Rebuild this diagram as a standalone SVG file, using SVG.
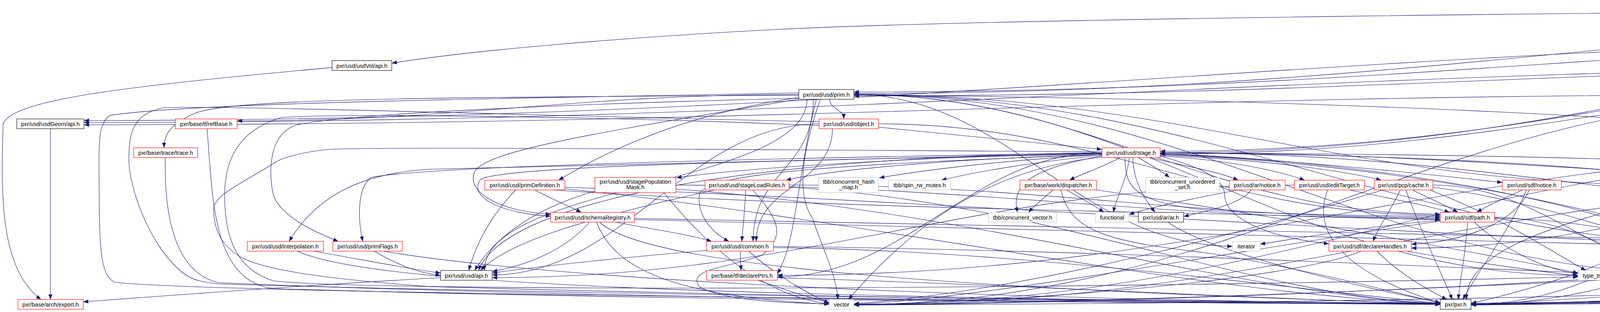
<svg xmlns="http://www.w3.org/2000/svg" width="6427" height="800" viewBox="0 0 6427 800">
<style>
.n rect{fill:#fff;stroke-width:1.1}
.r rect{stroke:#ff0000}
.b rect{stroke:#000}
.g rect{stroke:#bfbfbf}
.f rect{fill:#bfbfbf;stroke:#000}
text{font-family:"Liberation Sans",Arial,sans-serif;font-size:14.5px;text-anchor:middle;fill:#000}
#edges path{fill:none;stroke:#191970;stroke-width:1.1;marker-end:url(#arr)}
</style>
<defs>
<marker id="arr" viewBox="0 0 13 10" refX="13" refY="5" markerWidth="13" markerHeight="10" markerUnits="userSpaceOnUse" orient="auto"><path d="M0,0L13,5L0,10z" fill="#191970"/></marker>
</defs>
<rect width="6427" height="800" fill="#fff"/>
<g id="edges">
<path d="M6029,31 C6029,56 5851,56 5851,80.5"/>
<path d="M5976,20 C4000,30 2500,50 2000,75 C1600,95 1200,130 1003,162"/>
<path d="M5976,18.5 C4460,18.5 3702,240 2186,240"/>
<path d="M5976,18.5 C4774,18.5 4172,391.5 2970,391.5"/>
<path d="M6003,31 C6003,288 5310,288 5310,544.5"/>
<path d="M6010,31 C6010,325 5096,325 5096,619"/>
<path d="M5998,31 C5998,325 4641,325 4641,619"/>
<path d="M6145,31 C6290,180 6200,420 6115,544.5"/>
<path d="M6155,28 C6330,120 6340,520 6111,622"/>
<path d="M6158,24 C6400,110 6420,560 5985,693.5"/>
<path d="M6158,20 C6440,60 6430,660 6300,712 C6100,740 4500,760 3766,782"/>
<path d="M5767,105.5 C5767,130.5 5554,130.5 5554,155.5"/>
<path d="M5718,93 C3517,93 2416,309 215,309"/>
<path d="M5718,93 C4305,93 3599,236 2186,236"/>
<path d="M5718,93 C4619,93 4069,388 2970,388"/>
<path d="M5718,93 C5380,93 5211,238 4873,238"/>
<path d="M5747,105.5 C5747,325 5300,325 5300,544.5"/>
<path d="M5752,105.5 C5752,362 5090,362 5090,619"/>
<path d="M5757,105.5 C5757,362 4636,362 4636,619"/>
<path d="M5823,105.5 C5930,300 5950,500 5925,693.5"/>
<path d="M5889,105.5 C6000,150 6090,350 6091,544.5"/>
<path d="M5897,105.5 C6080,160 6220,520 6111,628"/>
<path d="M5905,105.5 C6100,150 6380,400 6360,700 C6300,750 4500,765 3766,779"/>
<path d="M5399,168 C3325,168 2289,314 215,314"/>
<path d="M5399,168 C4114,168 3471,246 2186,246"/>
<path d="M5399,168 C4427,168 3942,395 2970,395"/>
<path d="M5399,168 C5189,168 5083,246 4873,246"/>
<path d="M5494,180.5 C5405,300 5410,450 5290,544.5"/>
<path d="M5508,180.5 C5500,350 5400,560 5117,628"/>
<path d="M5432,180.5 C5432,400 4631,400 4631,619"/>
<path d="M5577,180.5 C5700,230 5830,500 5905,693.5"/>
<path d="M5590,180.5 C5800,250 5930,450 6022,619"/>
<path d="M5605,180.5 C5880,260 6010,400 6080,544.5"/>
<path d="M5516,180.5 C5640,420 5620,700 5500,730 C5200,760 4200,775 3766,777"/>
<path d="M850,173 C400,215 20,250 8,320 C2,500 0,690 105,768"/>
<path d="M129,330 L129,768"/>
<path d="M4678,242 C2893,242 2000,320 215,320"/>
<path d="M4748,254.5 C4748,437 4618,437 4618,619"/>
<path d="M4678,246 C3681,246 3183,780.5 2186,780.5"/>
<path d="M4707,254.5 C4707,511 3754,511 3754,768"/>
<path d="M2045,238 C1500,250 500,260 281,296 C250,320 253,360 254,500 C254,650 260,710 295,724 C500,745 1500,760 3687,781"/>
<path d="M2066,254.5 C2066,474 1240,474 1240,693.5"/>
<path d="M2082,254.5 C2082,437 1928,437 1928,619"/>
<path d="M2124,254.5 C2124,280 2160,280 2160,305"/>
<path d="M2045,250 C1700,300 1500,420 1430,462"/>
<path d="M2045,252 C1500,265 900,290 760,320 C680,345 690,460 700,500 C720,560 820,600 866,619"/>
<path d="M2045,254 C1600,330 1250,380 1215,440 C1190,500 1300,545 1410,549"/>
<path d="M2186,244 C3200,250 4500,300 4908,379"/>
<path d="M2045,244 C1200,250 600,250 500,290 C430,320 420,350 420,379"/>
<path d="M2090,254.5 C2040,450 2040,620 1990,702"/>
<path d="M2045,242 C1470,242 1182,310 607,310"/>
<path d="M2186,242 C3119,242 3585,631.5 4518,631.5"/>
<path d="M2186,242 C3022,242 3439,474.5 4275,474.5"/>
<path d="M2186,242 C2786,242 3087,549 3687,549"/>
<path d="M2186,242 C2574,242 2767,631.5 3155,631.5"/>
<path d="M2186,242 C3069,242 3511,706 4394,706"/>
<path d="M2186,242 C2928,242 3298,706 4040,706"/>
<path d="M2100,254.5 C2050,400 2040,500 2080,560 C2110,650 2140,700 2145,768"/>
<path d="M2249,326 L2821,383"/>
<path d="M2097,312 C1500,300 600,270 421,276 C340,290 330,340 330,408 C330,480 380,620 456,689 C480,712 500,722 560,728 C1500,755 2800,770 3687,778"/>
<path d="M2097,317.5 C1762,317.5 1595,705 1260,705"/>
<path d="M2131,330 C2131,474 1936,474 1936,619"/>
<path d="M2249,317.5 C2824,317.5 3112,552 3687,552"/>
<path d="M2097,322 C1600,300 900,290 722,301 C620,330 575,400 575,500 C575,600 600,690 700,720 C900,745 2500,748 4040,710"/>
<path d="M2821,389 C2000,385 1000,375 842,383 C770,390 720,405 702,418 C620,470 547,500 547,536 C547,580 560,630 624,663 C700,700 900,720 1100,735 C2000,760 3000,775 3687,780"/>
<path d="M2821,391.5 C2000,400 1300,500 1225,693.5"/>
<path d="M2821,396 C2200,420 1800,440 1790,500 C1785,560 1830,600 1866,619"/>
<path d="M2970,400 C3150,410 3280,440 3340,462"/>
<path d="M2821,393 C2000,410 1300,425 1100,434 C900,445 800,520 740,619"/>
<path d="M2821,394 C2200,410 1300,420 1230,460 C1195,510 1300,550 1410,554"/>
<path d="M2821,396 C2500,405 2150,430 2012,462"/>
<path d="M2821,394 C2400,400 1900,430 1732,456"/>
<path d="M2821,392 C2000,405 1100,425 950,455 C915,480 915,560 929,619"/>
<path d="M2821,391.5 C2489,391.5 2322,710 1990,710"/>
<path d="M2970,391.5 C3822,391.5 4249,470 5101,470"/>
<path d="M2970,392 C3500,395 4100,420 4305,462"/>
<path d="M2900,404 C2902,470 2930,510 2957,544.5"/>
<path d="M2942,404 C3030,425 3120,440 3170,462"/>
<path d="M2970,400 C3080,430 3135,460 3135,500 C3135,560 3250,610 3402,625"/>
<path d="M2970,394 C3300,410 3600,440 3846,468"/>
<path d="M2880,404 C2880,480 2900,520 3100,540 C3300,550 3500,553 3687,555"/>
<path d="M2970,392 C3800,395 4600,410 4900,462"/>
<path d="M2970,398 C3250,410 3450,440 3536,462"/>
<path d="M2970,391.5 C3854,391.5 4297,557 5181,557"/>
<path d="M2868,404 C2820,430 2770,445 2738,462"/>
<path d="M2821,400 C2650,430 2585,470 2605,544.5"/>
<path d="M2914,404 C2950,425 2975,440 2994,455"/>
<path d="M2821,396 C2600,410 2400,430 2251,456"/>
<path d="M2821,398 C2650,415 2500,440 2410,462"/>
<path d="M2891,404 C2885,460 2860,500 2850,544.5"/>
<path d="M2970,394 C3600,415 4250,550 4410,693.5"/>
<path d="M2970,396 C3600,420 4300,560 4490,693.5"/>
<path d="M2821,403 C2550,430 2350,560 2172,768"/>
<path d="M4880,404 C4700,420 4550,440 4450,464"/>
<path d="M4953,404 L4953,462"/>
<path d="M4990,404 C5060,425 5110,440 5140,462"/>
<path d="M4925,404 C4850,500 4700,560 4608,619"/>
<path d="M5033,398 C5260,430 5200,560 5070,619"/>
<path d="M5033,394 C5300,420 5320,500 5284,544.5"/>
<path d="M4935,404 C4830,500 4700,650 4452,698"/>
<path d="M4940,404 C4850,520 4720,680 4553,701"/>
<path d="M4873,391.5 C3798,391.5 3261,780.5 2186,780.5"/>
<path d="M4873,391.5 C4430,391.5 4209,780.5 3766,780.5"/>
<path d="M4873,391.5 C3720,391.5 3143,706 1990,706"/>
<path d="M4996,487 C5100,505 5170,520 5210,544.5"/>
<path d="M4962,487 C4980,540 5015,580 5035,619"/>
<path d="M4930,487 C4800,540 4700,580 4628,619"/>
<path d="M4944,487 C4870,600 4700,680 4452,704"/>
<path d="M4950,487 C4900,620 4750,690 4553,707"/>
<path d="M4955,487 C4960,650 4900,740 4600,760 C4300,775 4000,780 3766,781"/>
<path d="M4880,474.5 C4373,474.5 4120,636 3613,636"/>
<path d="M4880,478 C3802,478 3264,782 2186,782"/>
<path d="M5101,478 C4567,478 4300,780 3766,780"/>
<path d="M5221,569.5 C5180,590 5120,600 5084,619"/>
<path d="M5181,557 C4974,557 4870,628 4663,628"/>
<path d="M5181,560 C4761,560 4551,708 4131,708"/>
<path d="M5185,565 C4900,600 4500,640 4440,693.5"/>
<path d="M5250,569.5 C5240,700 5100,750 4800,765 C4400,775 4000,780 3766,782"/>
<path d="M6087,569.5 C6075,590 6060,600 6048,619"/>
<path d="M6105,569.5 C6140,640 6120,700 6000,740 C5500,770 4200,778 3766,781"/>
<path d="M6025,569.5 C5000,700 3000,775 2186,781"/>
<path d="M6012,644 C5990,665 5960,680 5936,693.5"/>
<path d="M6035,644 C6030,700 6000,730 5800,745 C5000,770 4200,779 3766,780"/>
<path d="M5947,693.5 C5970,675 6000,660 6022,644"/>
<path d="M5849,712 C5300,740 4300,776 3766,780"/>
<path d="M4565,644 C4520,665 4480,680 4440,693.5"/>
<path d="M4588,644 C4585,700 4500,740 4200,755 C4000,768 3850,778 3766,780"/>
<path d="M4600,644 C4625,690 4560,735 4400,748 C3800,770 2800,780 2186,782"/>
<path d="M4979,638 C4800,650 4600,690 4452,710"/>
<path d="M4979,642 C4800,660 4650,700 4553,713"/>
<path d="M5035,644 C5000,700 4900,730 4600,752 C4200,770 3900,779 3766,780"/>
<path d="M4985,644 C4300,720 3000,776 2186,782"/>
<path d="M4354,487 C4300,600 4100,700 3766,778"/>
<path d="M3757,569.5 C3752,650 3740,700 3733,768"/>
<path d="M3774,569.5 C3850,640 3950,690 4040,702"/>
<path d="M3687,565 C3500,580 3330,610 3226,626"/>
<path d="M3687,567 C3300,620 2500,770 2186,780"/>
<path d="M3826,557 C4053,557 4167,700 4394,700"/>
<path d="M3826,560 C4103,560 4241,631.5 4518,631.5"/>
<path d="M3525,644 C3580,700 3650,740 3704,768"/>
<path d="M3600,644 C3750,670 3900,690 4040,708"/>
<path d="M3485,644 C3300,720 2600,775 2186,781"/>
<path d="M3616,487 C3660,510 3700,525 3732,544.5"/>
<path d="M3585,487 C3560,540 3530,580 3515,619"/>
<path d="M3599,487 C3640,600 3690,700 3718,768"/>
<path d="M3540,487 C3300,560 2700,740 2186,779"/>
<path d="M3668,474.5 C3958,474.5 4104,710 4394,710"/>
<path d="M3668,480 C3980,520 4300,650 4495,693.5"/>
<path d="M3660,487 C3850,560 3980,650 4060,693.5"/>
<path d="M3897,487 C3850,510 3810,525 3781,544.5"/>
<path d="M3915,487 C3880,570 3750,620 3613,626"/>
<path d="M3908,487 C3860,600 3780,700 3745,768"/>
<path d="M3399,487 C3370,560 3380,680 3687,777"/>
<path d="M3455,487 C3560,510 3650,525 3711,544.5"/>
<path d="M3314,474.5 C2492,474.5 2082,712 1260,712"/>
<path d="M3170,487 C3050,510 2950,530 2890,550"/>
<path d="M3203,487 C3180,520 3100,540 3030,555"/>
<path d="M2696,487 C2675,505 2650,525 2633,544.5"/>
<path d="M2731,487 C2760,505 2800,525 2826,544.5"/>
<path d="M2716,487 C2740,600 2850,620 3100,650 C3400,700 3600,760 3687,776"/>
<path d="M2807,487 C3300,560 3800,650 4040,700"/>
<path d="M1909,487 C1907,540 1902,580 1899,619"/>
<path d="M1830,487 C1500,560 1300,620 1230,693.5"/>
<path d="M1927,487 C2010,580 2000,610 1950,655 C1850,690 1760,690 1790,735 C1850,770 2000,777 2123,779"/>
<path d="M2020,474.5 C2687,474.5 3020,558 3687,558"/>
<path d="M2020,480 C2700,520 3200,760 3687,779"/>
<path d="M1523,490 C1350,540 1260,620 1215,693.5"/>
<path d="M1730,474.5 C2513,474.5 2904,561 3687,561"/>
<path d="M1730,485 C2500,540 3200,760 3687,778"/>
<path d="M1700,494 C1800,620 1950,760 2123,779"/>
<path d="M1369,487 C1410,510 1450,525 1488,544.5"/>
<path d="M1320,487 C1260,550 1220,620 1200,693.5"/>
<path d="M1415,487 C2200,540 3200,545 3687,564"/>
<path d="M1446,484 C2200,560 3100,760 3687,778"/>
<path d="M1446,480 C2500,520 3800,620 4518,626"/>
<path d="M1509,569.5 C1450,640 1350,680 1260,696"/>
<path d="M1576,569.5 C1680,590 1760,600 1822,619"/>
<path d="M1527,569.5 C1570,680 1700,760 2123,780"/>
<path d="M1535,569.5 C1650,680 2400,740 3687,779"/>
<path d="M1624,560 C2800,580 4200,620 4979,628"/>
<path d="M1624,563 C2700,590 3900,625 4518,636"/>
<path d="M1895,644 L1897,693.5"/>
<path d="M1809,642 C1600,660 1400,680 1260,700"/>
<path d="M1980,635 C2600,640 3300,740 3687,778"/>
<path d="M1980,632 C2800,640 3800,690 4394,714"/>
<path d="M1916,644 C1980,700 2060,750 2123,777"/>
<path d="M1941,718.5 C2000,740 2060,760 2123,776"/>
<path d="M1990,712 C2600,730 3300,770 3687,779"/>
<path d="M1128,712 C800,730 400,760 213,774"/>
<path d="M803,644 C950,670 1050,690 1128,700"/>
<path d="M761,644 C950,730 1800,760 3687,779"/>
<path d="M958,644 C1020,680 1070,700 1128,706"/>
<path d="M982,644 C1300,700 2200,765 3687,779"/>
<path d="M530,330 C545,500 540,720 700,740 C1500,765 2500,775 3687,779"/>
<path d="M423,404 C420,560 450,700 560,725 C1400,760 2500,775 3687,780"/>
<path d="M2990,569.5 C3100,650 3500,740 3687,776"/>
</g>
<g id="n_volume" class="n f"><rect x="5976" y="6" width="182" height="25"/><text x="6067" y="24">pxr/usd/usdVol/volume.h</text></g>
<g id="n_gprim" class="n b"><rect x="5718" y="80.5" width="190" height="25"/><text x="5813" y="98.5">pxr/usd/usdGeom/gprim.h</text></g>
<g id="n_volapi" class="n b"><rect x="850" y="155.5" width="153" height="25"/><text x="926.5" y="173.5">pxr/usd/usdVol/api.h</text></g>
<g id="n_boundable" class="n r"><rect x="5399" y="155.5" width="219" height="25"/><text x="5508.5" y="173.5">pxr/usd/usdGeom/boundable.h</text></g>
<g id="n_prim" class="n b"><rect x="2045" y="229.5" width="141" height="25"/><text x="2115.5" y="247.5">pxr/usd/usd/prim.h</text></g>
<g id="n_tokens" class="n r"><rect x="4678" y="229.5" width="195" height="25"/><text x="4775.5" y="247.5">pxr/usd/usdGeom/tokens.h</text></g>
<g id="n_geomapi" class="n b"><rect x="43" y="305" width="172" height="25"/><text x="129" y="323">pxr/usd/usdGeom/api.h</text></g>
<g id="n_refbase" class="n r"><rect x="449" y="305" width="158" height="25"/><text x="528" y="323">pxr/base/tf/refBase.h</text></g>
<g id="n_object" class="n r"><rect x="2097" y="305" width="152" height="25"/><text x="2173" y="323">pxr/usd/usd/object.h</text></g>
<g id="n_trace" class="n r"><rect x="342" y="379" width="164" height="25"/><text x="424" y="397">pxr/base/trace/trace.h</text></g>
<g id="n_stage" class="n r"><rect x="2821" y="379" width="149" height="25"/><text x="2895.5" y="397">pxr/usd/usd/stage.h</text></g>
<g id="n_schema" class="n r"><rect x="4873" y="379" width="160" height="25"/><text x="4953" y="397">pxr/usd/sdf/schema.h</text></g>
<g id="n_primdef" class="n r"><rect x="1241" y="462" width="205" height="25"/><text x="1343.5" y="480">pxr/usd/usd/primDefinition.h</text></g>
<g id="n_popmask" class="n r"><rect x="1523" y="455" width="207" height="39"/><text x="1626.5" y="471">pxr/usd/usd/stagePopulation</text><text x="1626.5" y="485">Mask.h</text></g>
<g id="n_loadrules" class="n r"><rect x="1805" y="462" width="215" height="25"/><text x="1912.5" y="480">pxr/usd/usd/stageLoadRules.h</text></g>
<g id="n_tbbhash" class="n g"><rect x="2096" y="455" width="153" height="39"/><text x="2172.5" y="471">tbb/concurrent_hash</text><text x="2172.5" y="485">_map.h</text></g>
<g id="n_spin" class="n g"><rect x="2275" y="462" width="159" height="25"/><text x="2354.5" y="480">tbb/spin_rw_mutex.h</text></g>
<g id="n_disp" class="n r"><rect x="2611" y="462" width="196" height="25"/><text x="2709" y="480">pxr/base/work/dispatcher.h</text></g>
<g id="n_unset" class="n g"><rect x="2933" y="455" width="189" height="39"/><text x="3027.5" y="471">tbb/concurrent_unordered</text><text x="3027.5" y="485">_set.h</text></g>
<g id="n_arnotice" class="n r"><rect x="3147" y="462" width="143" height="25"/><text x="3218.5" y="480">pxr/usd/ar/notice.h</text></g>
<g id="n_edit" class="n r"><rect x="3314" y="462" width="179" height="25"/><text x="3403.5" y="480">pxr/usd/usd/editTarget.h</text></g>
<g id="n_pcp" class="n r"><rect x="3518" y="462" width="150" height="25"/><text x="3593" y="480">pxr/usd/pcp/cache.h</text></g>
<g id="n_sdfnotice" class="n r"><rect x="3846" y="462" width="151" height="25"/><text x="3921.5" y="480">pxr/usd/sdf/notice.h</text></g>
<g id="n_weak" class="n r"><rect x="4275" y="462" width="175" height="25"/><text x="4362.5" y="480">pxr/base/tf/weakBase.h</text></g>
<g id="n_types" class="n r"><rect x="4880" y="462" width="146" height="25"/><text x="4953" y="480">pxr/usd/sdf/types.h</text></g>
<g id="n_hashmap" class="n r"><rect x="5101" y="462" width="167" height="25"/><text x="5184.5" y="480">pxr/base/tf/hashmap.h</text></g>
<g id="n_schemareg" class="n r"><rect x="1410" y="544.5" width="214" height="25"/><text x="1517" y="562.5">pxr/usd/usd/schemaRegistry.h</text></g>
<g id="n_cvec" class="n g"><rect x="2531" y="544.5" width="174" height="25"/><text x="2618" y="562.5">tbb/concurrent_vector.h</text></g>
<g id="n_functional" class="n g"><rect x="2804" y="544.5" width="86" height="25"/><text x="2847" y="562.5">functional</text></g>
<g id="n_ar" class="n b"><rect x="2914" y="544.5" width="116" height="25"/><text x="2972" y="562.5">pxr/usd/ar/ar.h</text></g>
<g id="n_path" class="n r"><rect x="3687" y="544.5" width="139" height="25"/><text x="3756.5" y="562.5">pxr/usd/sdf/path.h</text></g>
<g id="n_value" class="n r"><rect x="5181" y="544.5" width="146" height="25"/><text x="5254" y="562.5">pxr/base/vt/value.h</text></g>
<g id="n_matrix" class="n r"><rect x="6011" y="544.5" width="170" height="25"/><text x="6096" y="562.5">pxr/base/gf/matrix4d.h</text></g>
<g id="n_interp" class="n r"><rect x="633" y="619" width="195" height="25"/><text x="730.5" y="637">pxr/usd/usd/interpolation.h</text></g>
<g id="n_primflags" class="n r"><rect x="852" y="619" width="178" height="25"/><text x="941" y="637">pxr/usd/usd/primFlags.h</text></g>
<g id="n_common" class="n r"><rect x="1809" y="619" width="171" height="25"/><text x="1894.5" y="637">pxr/usd/usd/common.h</text></g>
<g id="n_iter" class="n g"><rect x="3155" y="619" width="71" height="25"/><text x="3190.5" y="637">iterator</text></g>
<g id="n_declhandles" class="n r"><rect x="3402" y="619" width="211" height="25"/><text x="3507.5" y="637">pxr/usd/sdf/declareHandles.h</text></g>
<g id="n_token" class="n r"><rect x="4518" y="619" width="145" height="25"/><text x="4590.5" y="637">pxr/base/tf/token.h</text></g>
<g id="n_type" class="n r"><rect x="4979" y="619" width="138" height="25"/><text x="5048" y="637">pxr/base/tf/type.h</text></g>
<g id="n_vec3d" class="n r"><rect x="5961" y="619" width="150" height="25"/><text x="6036" y="637">pxr/base/gf/vec3d.h</text></g>
<g id="n_usdapi" class="n b"><rect x="1128" y="693.5" width="132" height="25"/><text x="1194" y="711.5">pxr/usd/usd/api.h</text></g>
<g id="n_declptrs" class="n r"><rect x="1809" y="693.5" width="181" height="25"/><text x="1899.5" y="711.5">pxr/base/tf/declarePtrs.h</text></g>
<g id="n_typetraits" class="n g"><rect x="4040" y="693.5" width="91" height="25"/><text x="4085.5" y="711.5">type_traits</text></g>
<g id="n_string" class="n g"><rect x="4394" y="693.5" width="58" height="25"/><text x="4423" y="711.5">string</text></g>
<g id="n_memory" class="n g"><rect x="4476" y="693.5" width="77" height="25"/><text x="4514.5" y="711.5">memory</text></g>
<g id="n_vec3f" class="n r"><rect x="5849" y="693.5" width="147" height="25"/><text x="5922.5" y="711.5">pxr/base/gf/vec3f.h</text></g>
<g id="n_export" class="n r"><rect x="46" y="768" width="167" height="25"/><text x="129.5" y="786">pxr/base/arch/export.h</text></g>
<g id="n_vector" class="n g"><rect x="2123" y="768" width="63" height="25"/><text x="2154.5" y="786">vector</text></g>
<g id="n_pxr" class="n b"><rect x="3687" y="768" width="79" height="25"/><text x="3726.5" y="786">pxr/pxr.h</text></g>
</svg>
